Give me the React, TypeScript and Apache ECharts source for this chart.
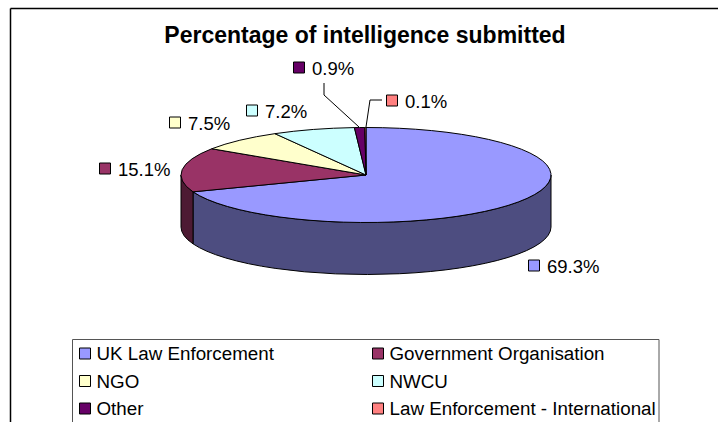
import React, { useEffect, useRef } from "react";
import * as echarts from "echarts";

const categories = ["UK Law Enforcement", "Government Organisation", "NGO", "NWCU", "Other", "Law Enforcement - International"];
const shares = [69.3, 15.1, 7.5, 7.2, 0.9, 0.1];
const topColors = ["#9999FF", "#993366", "#FFFFCC", "#CCFFFF", "#660066", "#FF8080"];
const wallColors = ["#4D4D80", "#4D1A33", "#80806A", "#6A8080", "#330033", "#804040"];
const leftLegendNames = [categories[0], categories[2], categories[4]];
const rightLegendNames = [categories[1], categories[3], categories[5]];

const FONT = "'Liberation Sans', Arial, sans-serif";
const CX = 366, CY = 175, RX = 185, RY = 47.5, DEPTH = 52;
// Top-left corner of the swatch of each data label
const labelSpots = [[528.5, 260], [99.5, 163], [169.5, 117], [246.5, 105], [293.5, 62], [386.5, 95]];
const leaders: Record<number, number[][]> = {
  4: [[324, 83], [324, 95], [359, 127]],
  5: [[382, 100], [370, 100], [366, 127]],
};

const total = shares.reduce((a, b) => a + b, 0);
const pt = (deg: number, dy = 0) => {
  const r = (deg * Math.PI) / 180;
  return [CX + RX * Math.sin(r), CY - RY * Math.cos(r) + dy];
};

export default function App() {
  const ref = useRef<HTMLDivElement>(null);
  useEffect(() => {
    const chart = echarts.init(ref.current!, undefined, { renderer: "svg" });
    let acc = 0;
    const series = categories.map((name, i) => {
      const start = (acc / total) * 360;
      acc += shares[i];
      const end = (acc / total) * 360;
      return {
        type: "custom",
        name,
        coordinateSystem: "none",
        silent: true,
        itemStyle: { color: topColors[i] },
        data: [{ name, value: shares[i] }],
        renderItem: (_: any, api: any) => {
          const value = api.value(0);
          const children: any[] = [];
          const a0 = Math.max(start, 90), a1 = Math.min(end, 270);
          if (a1 > a0) {
            const p0 = pt(a0), p1 = pt(a1), q1 = pt(a1, DEPTH), q0 = pt(a0, DEPTH);
            children.push({
              type: "path",
              shape: {
                pathData: `M${p0[0]} ${p0[1]}A${RX} ${RY} 0 0 1 ${p1[0]} ${p1[1]}L${q1[0]} ${q1[1]}A${RX} ${RY} 0 0 0 ${q0[0]} ${q0[1]}Z`,
                layout: "none",
              },
              style: { fill: wallColors[i], stroke: "#000", lineWidth: 1 },
            });
          }
          const s = pt(start), e = pt(end);
          const large = end - start > 180 ? 1 : 0;
          children.push({
            type: "path",
            shape: {
              pathData: `M${CX} ${CY}L${s[0]} ${s[1]}A${RX} ${RY} 0 ${large} 1 ${e[0]} ${e[1]}Z`,
              layout: "none",
            },
            style: { fill: topColors[i], stroke: "#000", lineWidth: 1 },
          });
          const [lx, ly] = labelSpots[i];
          if (leaders[i]) {
            children.push({
              type: "polyline",
              shape: { points: leaders[i] },
              style: { fill: "none", stroke: "#000", lineWidth: 1 },
              z2: 5,
            });
          }
          children.push({
            type: "rect",
            shape: { x: lx, y: ly, width: 11, height: 11 },
            style: { fill: topColors[i], stroke: "#000", lineWidth: 1 },
            z2: 5,
          });
          children.push({
            type: "text",
            style: {
              x: lx + 18.5, y: ly + 6, text: value.toFixed(1) + "%",
              font: `18.5px ${FONT}`, fill: "#000", textVerticalAlign: "middle", verticalAlign: "middle",
            },
            z2: 5,
          });
          return { type: "group", children };
        },
      };
    });
    const legendBase = {
      orient: "vertical",
      top: 344,
      icon: "rect",
      itemWidth: 11,
      itemHeight: 11,
      itemGap: 8.5,
      padding: 0,
      selectedMode: false,
      itemStyle: { borderColor: "#000", borderWidth: 1 },
      textStyle: { fontFamily: FONT, fontSize: 18.8, color: "#000", padding: [0, 0, 0, 1] },
    };
    chart.setOption({
      animation: false,
      backgroundColor: "#fff",
      title: {
        text: "Percentage of intelligence submitted",
        left: 365, top: 23, textAlign: "center", padding: 0,
        textStyle: { fontFamily: FONT, fontSize: 23, fontWeight: "bold", color: "#000" },
      },
      legend: [
        { ...legendBase, left: 79, data: leftLegendNames },
        { ...legendBase, left: 372, data: rightLegendNames },
      ],
      graphic: [
        { type: "line", shape: { x1: 10.5, y1: 8.5, x2: 718, y2: 8.5 }, style: { stroke: "#000", lineWidth: 1.5 } },
        { type: "line", shape: { x1: 10.5, y1: 8.5, x2: 10.5, y2: 422 }, style: { stroke: "#000", lineWidth: 1.5 } },
        { type: "rect", shape: { x: 72.5, y: 339.5, width: 586.5, height: 90 }, style: { fill: "none", stroke: "#555", lineWidth: 1 } },
      ],
      series,
    });
    return () => chart.dispose();
  }, []);
  return <div ref={ref} style={{ position: "absolute", left: 0, top: 0, width: 718, height: 422 }} />;
}
